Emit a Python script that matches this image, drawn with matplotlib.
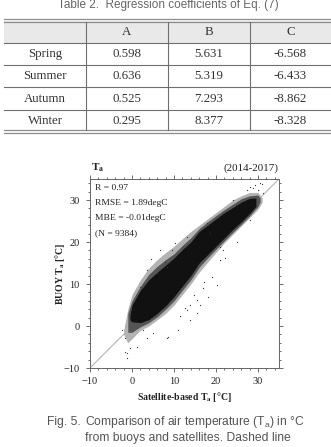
import numpy as np
import matplotlib.pyplot as plt
from matplotlib.ticker import MultipleLocator

plt.rcParams['mathtext.fontset'] = 'custom'
plt.rcParams['mathtext.rm'] = 'Liberation Serif'
plt.rcParams['mathtext.bf'] = 'Liberation Serif:bold'
plt.rcParams['mathtext.sf'] = 'Liberation Sans'

# Table 2 values
col_names = ['A', 'B', 'C']
seasons = ['Spring', 'Summer', 'Autumn', 'Winter']
coef_a = ['0.598', '0.636', '0.525', '0.295']
coef_b = ['5.631', '5.319', '7.293', '8.377']
coef_c = ['-6.568', '-6.433', '-8.862', '-8.328']

# Fig. 5: satellite-based Ta (x) vs buoy Ta (y)
# dense core of the point cloud
core_x = [-0.5, 0, 2, 4, 6, 8, 10, 12, 14, 16, 18, 20, 22, 24, 26, 28, 29.5]
core_lo = [1.5, 1.0, 0.8, 1.5, 3.0, 4.8, 7.0, 9.5, 12.0, 15.0, 17.0, 19.0, 21.0, 23.0, 24.8, 26.8, 28.5]
core_hi = [2.5, 5.0, 8.5, 11.0, 12.8, 14.5, 16.2, 18.2, 20.0, 22.5, 24.0, 25.5, 27.0, 28.2, 29.5, 30.4, 30.5]
# medium-density band around the core
mid_x = [-1, 0, 2, 4, 6, 8, 10, 12, 14, 16, 18, 20, 22, 24, 26, 28, 30, 30.5]
mid_lo = [-1.5, -1.5, -0.2, 0.8, 2.2, 4.0, 6.0, 8.5, 11.0, 14.0, 16.2, 18.3, 20.3, 22.3, 24.2, 26.2, 28.5, 29.5]
mid_hi = [3.0, 6.0, 9.5, 12.3, 14.2, 15.8, 17.2, 19.2, 21.0, 23.2, 24.8, 26.3, 27.7, 29.0, 30.3, 31.0, 31.2, 30.5]
# sparse fringe
fringe_x = [-2, -1, 0, 2, 4, 6, 8, 10, 12, 14, 16, 18, 20, 22, 24, 26, 28, 30, 31]
fringe_lo = [-2.0, -4.0, -3.0, -1.0, 0.0, 1.5, 3.0, 5.0, 7.5, 10.0, 12.8, 15.2, 17.5, 19.8, 21.8, 23.8, 25.8, 27.8, 29.5]
fringe_hi = [-1.0, 4.0, 7.5, 11.0, 13.8, 15.8, 17.5, 19.0, 20.8, 22.5, 24.0, 25.5, 27.0, 28.5, 30.0, 31.0, 31.8, 31.8, 30.5]
# scattered outliers
out_x = [28.1, 29.3, 30.5, 31.0, 27.4, 28.8, 30.0, 31.2, 24.0, 25.7, 17.9, 18.6, 25.0, 21.0,
         28.1, 22.1, 9.5, 7.9, 6.0, 8.3, 19.0, 20.2, 16.9, 18.1, 21.0, 15.5, 13.8, 21.7,
         8.3, 11.0, -1.2, -0.5, -1.7, 1.2, 13.1, 13.8, 15.5, 5.0, 3.6, 2.6, -2.4, 8.6,
         12.6, 16.2, -1.2, -1.7, 6.7, 3.6, 1.9, 10.2, 13.1, 6.0, 11.5, 14.8, 17.2, 4.5]
out_y = [33.1, 33.6, 34.0, 33.8, 32.4, 32.9, 32.4, 31.7, 30.0, 29.3, 24.5, 22.1, 20.0, 18.8,
         25.2, 16.2, 18.1, 15.2, 12.6, 14.0, 11.7, 9.8, 9.0, 6.9, 15.7, 6.2, 5.0, 18.1,
         -2.9, -1.0, -6.4, -5.2, -2.9, -5.0, 3.8, 1.4, 3.1, -1.7, -2.9, -1.0, -1.0, -2.6,
         4.3, 5.0, -7.6, -6.2, 18.1, 13.3, 9.3, 19.8, 21.2, 12.6, 2.5, 7.5, 10.5, 16.0]
stats = ['R = 0.97', 'RMSE = 1.89degC', 'MBE = -0.01degC', '(N = 9384)']

fig = plt.figure(figsize=(3.31, 4.47), dpi=100)

# page layer in pixel coordinates (table + caption)
page = fig.add_axes([0, 0, 1, 1])
page.set_xlim(0, 331)
page.set_ylim(447, 0)
page.axis('off')

page.text(168, 5, 'Table 2.  Regression coefficients of Eq. (7)', ha='center', va='center',
          fontsize=8.5, color='#666666', family='Liberation Sans')

row_edges = [21, 43, 65, 87, 110, 131]
col_edges = [4, 86, 168, 250, 331]
page.fill_between([4, 331], 21, 43, color='#e9e9e9', lw=0)
for y in (19, 21.5, 130, 132.5):
    page.plot([4, 331], [y, y], color='#8c8c8c', lw=0.9)
for y in row_edges[1:-1]:
    page.plot([4, 331], [y, y], color='#6f6f6f', lw=0.8)
for x in col_edges[1:-1]:
    page.plot([x, x], [21.5, 130], color='#6f6f6f', lw=0.8)

cell_font = dict(ha='center', va='center', fontsize=9.3, color='#333333', family='Liberation Serif')
col_mid = [(col_edges[i] + col_edges[i + 1]) / 2 for i in range(4)]
row_mid = [(row_edges[i] + row_edges[i + 1]) / 2 for i in range(5)]
for j, name in enumerate(col_names):
    page.text(col_mid[j + 1], row_mid[0], name, **cell_font)
for i, s in enumerate(seasons):
    for j, v in enumerate([s, coef_a[i], coef_b[i], coef_c[i]]):
        page.text(col_mid[j], row_mid[i + 1], v, **cell_font)

cap_font = dict(fontsize=8.7, color='#555555', family='Liberation Sans', va='center')
page.text(47, 422, 'Fig. 5.', **cap_font)
page.text(85, 422, r'Comparison of air temperature (T$_{\mathsf{a}}$) in °C', **cap_font)
page.text(85, 438, 'from buoys and satellites. Dashed line', **cap_font)

# scatter plot
ax = fig.add_axes([90 / 331, 1 - 368 / 447, 189 / 331, 189 / 447])
ax.plot([-10, 35], [-10, 35], color='#b5b5b5', lw=0.8, zorder=1)
ax.fill_between(fringe_x, fringe_lo, fringe_hi, color='#b3b3b3', lw=0, zorder=2)
ax.fill_between(mid_x, mid_lo, mid_hi, color='#555555', lw=0, zorder=3)
ax.fill_between(core_x, core_lo, core_hi, color='#111111', lw=0, zorder=4)
ax.scatter(out_x, out_y, s=0.8, color='#333333', lw=0, zorder=5)

ax.set_xlim(-10, 35)
ax.set_ylim(-10, 35)
ax.xaxis.set_major_locator(MultipleLocator(10))
ax.yaxis.set_major_locator(MultipleLocator(10))
ax.xaxis.set_minor_locator(MultipleLocator(2))
ax.yaxis.set_minor_locator(MultipleLocator(2))
ax.tick_params(which='both', direction='out', top=True, right=True, colors='#555555',
               width=0.6, labelcolor='#222222')
ax.tick_params(which='major', length=3)
ax.tick_params(which='minor', length=1.5)
ax.tick_params(axis='y', pad=4.5)
ax.tick_params(axis='x', pad=3.5)
for lab in ax.get_xticklabels() + ax.get_yticklabels():
    lab.set_family('Liberation Serif')
    lab.set_fontsize(7.5)
for sp in ax.spines.values():
    sp.set_color('#666666')
    sp.set_linewidth(0.7)

for k, s in enumerate(stats):
    ax.text(0.027, 0.952 - k * 0.079, s, transform=ax.transAxes, va='center', ha='left',
            fontsize=6.8, family='Liberation Serif', color='#222222')

page.text(91, 168, r'T$_\mathbf{a}$', fontsize=8, fontweight='bold', family='Liberation Serif',
          va='center', ha='left', color='#222222')
page.text(279, 168.5, '(2014-2017)', fontsize=7.9, family='Liberation Serif',
          va='center', ha='right', color='#222222')
page.text(184.5, 397, r'Satellite-based T$_\mathbf{a}$ [°C]', fontsize=7, fontweight='bold',
          family='Liberation Serif', ha='center', va='center', color='#222222')
page.text(60, 273.5, r'BUOY T$_\mathbf{a}$ [°C]', fontsize=7, fontweight='bold', rotation=90,
          family='Liberation Serif', ha='center', va='center', color='#222222')

fig.savefig('out.png', dpi=100)
